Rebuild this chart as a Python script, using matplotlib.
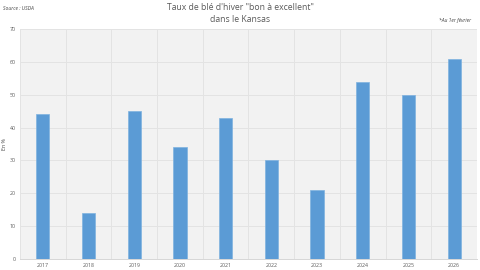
#!/usr/bin/env python3
"""Kansas winter wheat good-to-excellent rating, Feb 1st, 2017-2026."""

import matplotlib.pyplot as plt
import numpy as np

YEARS = ["2017", "2018", "2019", "2020", "2021", "2022", "2023", "2024", "2025", "2026"]
RATING = [44, 14, 45, 34, 43, 30, 21, 54, 50, 61]

BAR_COLOR = "#5b9bd5"
TEXT_COLOR = "#595959"
plt.rcParams["font.family"] = ["Open Sans", "DejaVu Sans"]


def main() -> None:
    fig = plt.figure(figsize=(4.8, 2.7), dpi=100)
    ax = fig.add_axes([20 / 480, 11 / 270, 457 / 480, 230 / 270])
    ax.set_facecolor("#f2f2f2")

    x = np.arange(len(YEARS))
    ax.bar(x, RATING, width=0.29, color=BAR_COLOR, edgecolor="#7fb2e0",
           linewidth=0.5, zorder=3)

    ax.set_xlim(-0.5, len(YEARS) - 0.5)
    ax.set_ylim(0, 70)
    ax.set_yticks(range(0, 71, 10))
    ax.set_xticks(x)
    ax.set_xticklabels(YEARS)
    ax.set_xticks(np.arange(-0.5, len(YEARS), 1), minor=True)

    ax.grid(axis="y", which="major", color="#e3e3e3", linewidth=0.7, zorder=0)
    ax.grid(axis="x", which="minor", color="#e3e3e3", linewidth=0.7, zorder=0)
    ax.tick_params(axis="both", which="both", length=0, labelsize=3.8,
                   labelcolor=TEXT_COLOR, pad=3)
    for side in ax.spines.values():
        side.set_visible(False)
    ax.spines["bottom"].set_visible(True)
    ax.spines["bottom"].set_color("#d6d6d6")
    ax.spines["bottom"].set_linewidth(0.7)

    ax.set_ylabel("En %", fontsize=3.8, color="#404040")
    ax.yaxis.set_label_coords(-13 / 457, 0.5)

    fig.text(0.5, 1 - 8 / 270, "Taux de blé d'hiver \"bon à excellent\"",
             ha="center", va="center", fontsize=6.2, color=TEXT_COLOR)
    fig.text(0.5, 1 - 19 / 270, "dans le Kansas",
             ha="center", va="center", fontsize=6.2, color=TEXT_COLOR)
    fig.text(3 / 480, 1 - 8 / 270, "Source : USDA", ha="left", va="center",
             fontsize=3.6, style="italic", color="#404040")
    fig.text(471 / 480, 1 - 20 / 270, "*Au 1er février", ha="right", va="center",
             fontsize=3.6, style="italic", color="#404040")

    fig.savefig("out.png", dpi=100)


if __name__ == "__main__":
    main()
